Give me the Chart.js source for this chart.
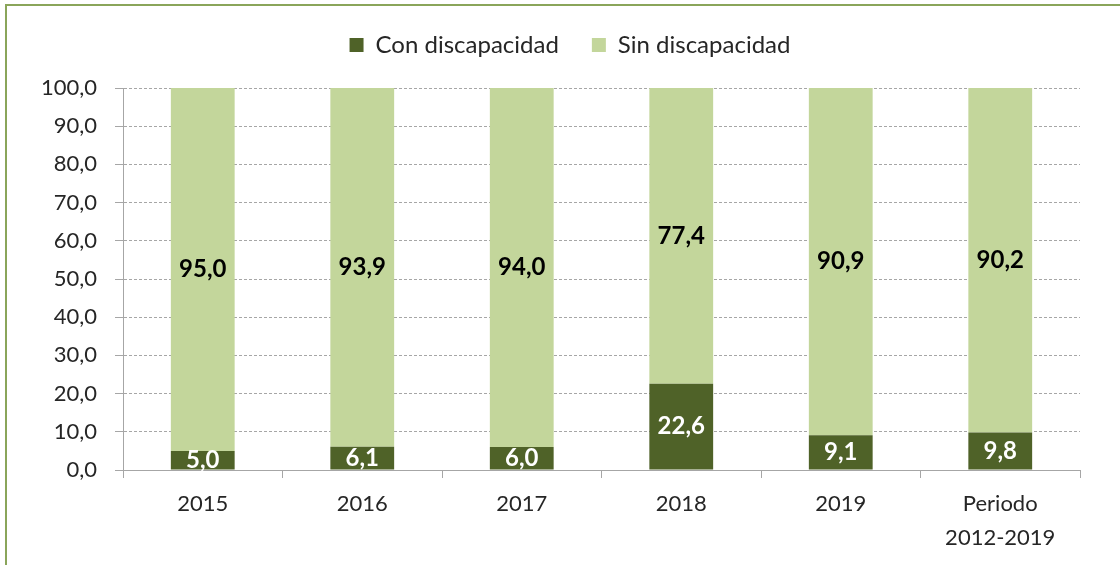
<!DOCTYPE html>
<html>
<head>
<meta charset="utf-8">
<script src="https://cdn.jsdelivr.net/npm/chart.js@4.4.0/dist/chart.umd.min.js"></script>
<style>
  html, body { margin: 0; padding: 0; background: #fff; overflow: hidden; }
  #wrap { position: relative; width: 1120px; height: 565px; }
  #frame { position: absolute; left: 5px; top: 4px; width: 1200px; height: 700px;
           border-top: 2px solid #8aa55a; border-left: 2px solid #8aa55a; pointer-events: none; }
  canvas { position: absolute; left: 0; top: 0; }
</style>
</head>
<body>
<div id="wrap">
  <canvas id="c" width="1120" height="565"></canvas>
  <div id="frame"></div>
</div>
<script>
  const categories = ["2015", "2016", "2017", "2018", "2019", ["Periodo", "2012-2019"]];
  const conDiscapacidad = [5.0, 6.1, 6.0, 22.6, 9.1, 9.8];
  const sinDiscapacidad = [95.0, 93.9, 94.0, 77.4, 90.9, 90.2];
  const yTicks = [0, 10, 20, 30, 40, 50, 60, 70, 80, 90, 100];

  const FONT = "Lato, 'Open Sans', sans-serif";
  const fmt = (v) => v.toFixed(1).replace(".", ",");

  // value labels centred in each bar segment
  const barLabels = {
    id: "barLabels",
    afterDatasetsDraw(chart) {
      const ctx = chart.ctx;
      ctx.save();
      ctx.font = "bold 24px " + FONT;
      ctx.textAlign = "center";
      ctx.textBaseline = "middle";
      chart.data.datasets.forEach((ds, i) => {
        const meta = chart.getDatasetMeta(i);
        meta.data.forEach((el, j) => {
          ctx.fillStyle = ds.labelColor;
          ctx.fillText(fmt(ds.data[j]), el.x, (el.y + el.base) / 2);
        });
      });
      ctx.restore();
    },
  };

  // nudge the legend a bit right, like the original (it isn't centred on the canvas)
  const legendShift = {
    id: "legendShift",
    afterLayout(chart) {
      chart.legend.left += 30;
      chart.legend.right += 30;
    },
  };

  new Chart(document.getElementById("c"), {
    type: "bar",
    data: {
      labels: categories,
      datasets: [
        { label: "Con discapacidad", data: conDiscapacidad, backgroundColor: "#4f6228", labelColor: "#ffffff" },
        { label: "Sin discapacidad", data: sinDiscapacidad, backgroundColor: "#c3d69b", labelColor: "#000000" },
      ],
    },
    options: {
      responsive: false,
      animation: false,
      devicePixelRatio: 1,
      categoryPercentage: 1,
      barPercentage: 0.4,
      layout: { padding: { top: 0, right: 40, left: 0, bottom: 0 } },
      plugins: {
        tooltip: { enabled: false },
        // empty title used as a spacer between legend and plot
        title: { display: true, text: " ", weight: 500, font: { size: 1, lineHeight: 1 }, padding: { top: 20, bottom: 0 } },
        legend: {
          position: "top",
          align: "center",
          labels: {
            color: "#262626",
            font: { family: FONT, size: 24 },
            boxWidth: 14,
            boxHeight: 14,
            padding: 33,
          },
        },
      },
      scales: {
        x: {
          stacked: true,
          grid: { drawOnChartArea: false, drawTicks: true, tickLength: 8, color: "#a6a6a6", offset: true },
          border: { color: "#a6a6a6" },
          ticks: { color: "#262626", font: { family: FONT, size: 22, lineHeight: 1.545 }, padding: 9, maxRotation: 0 },
          afterFit: (s) => { s.height = 95; },
        },
        y: {
          stacked: true,
          min: 0,
          max: 100,
          afterBuildTicks: (s) => { s.ticks = yTicks.map((v) => ({ value: v })); },
          grid: { color: "#a6a6a6", tickLength: 8, tickBorderDash: [] },
          border: { color: "#a6a6a6", dash: [3, 2] },
          ticks: { color: "#262626", font: { family: FONT, size: 22 }, padding: 18, callback: (v) => fmt(v) },
          afterFit: (s) => { s.width = 123; s.paddingTop = 88; },
        },
      },
    },
    plugins: [barLabels, legendShift],
  });
</script>
</body>
</html>
